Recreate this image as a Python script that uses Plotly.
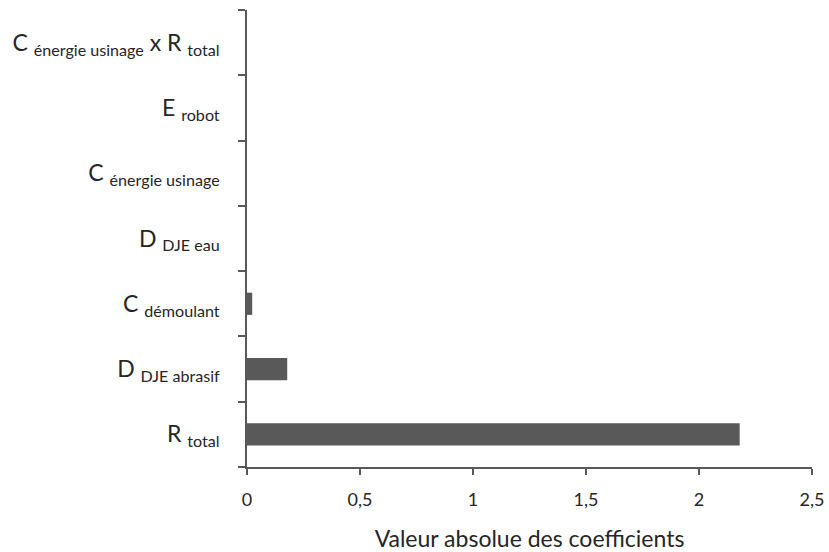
import plotly.graph_objects as go

categories = [
    "R <sub>total</sub>",
    "D <sub>DJE abrasif</sub>",
    "C <sub>démoulant</sub>",
    "D <sub>DJE eau</sub>",
    "C <sub>énergie usinage</sub>",
    "E <sub>robot</sub>",
    "C <sub>énergie usinage</sub> x R <sub>total</sub>",
]
values = [2.18, 0.178, 0.023, 0.0, 0.0, 0.0, 0.0]
x_ticks = [0, 0.5, 1, 1.5, 2, 2.5]
x_tick_labels = ["0", "0,5", "1", "1,5", "2", "2,5"]

axis_color = "#595959"
font_family = "Lato, 'Open Sans', sans-serif"

fig = go.Figure(
    go.Bar(
        y=categories,
        x=values,
        orientation="h",
        marker=dict(color="#595959", line=dict(width=0)),
    )
)

fig.update_layout(
    width=829,
    height=552,
    margin=dict(l=247, r=17, t=10, b=85),
    plot_bgcolor="white",
    paper_bgcolor="white",
    bargap=0.66,
    showlegend=False,
    font=dict(family=font_family, color="#262626"),
)

fig.update_xaxes(
    range=[0, 2.5],
    tickvals=x_ticks,
    ticktext=x_tick_labels,
    showgrid=False,
    zeroline=False,
    showline=True,
    linecolor=axis_color,
    linewidth=1.5,
    ticks="outside",
    ticklen=6,
    tickcolor=axis_color,
    tickwidth=1.5,
    ticklabelstandoff=10,
    automargin=False,
    tickfont=dict(size=18, color="#262626"),
    title=dict(text="Valeur absolue des coefficients", font=dict(size=23, color="#262626"), standoff=23),
)

fig.update_yaxes(
    type="category",
    categoryorder="array",
    categoryarray=categories,
    showgrid=False,
    zeroline=False,
    showline=True,
    linecolor=axis_color,
    linewidth=1.5,
    ticks="outside",
    tickson="boundaries",
    ticklen=7,
    tickcolor=axis_color,
    tickwidth=1.5,
    ticklabelstandoff=21,
    automargin=False,
    tickfont=dict(size=23, color="#262626"),
)

fig.write_html(
    "out.html",
    config={"displayModeBar": False},
    post_script="document.body.style.margin='0';",
)
